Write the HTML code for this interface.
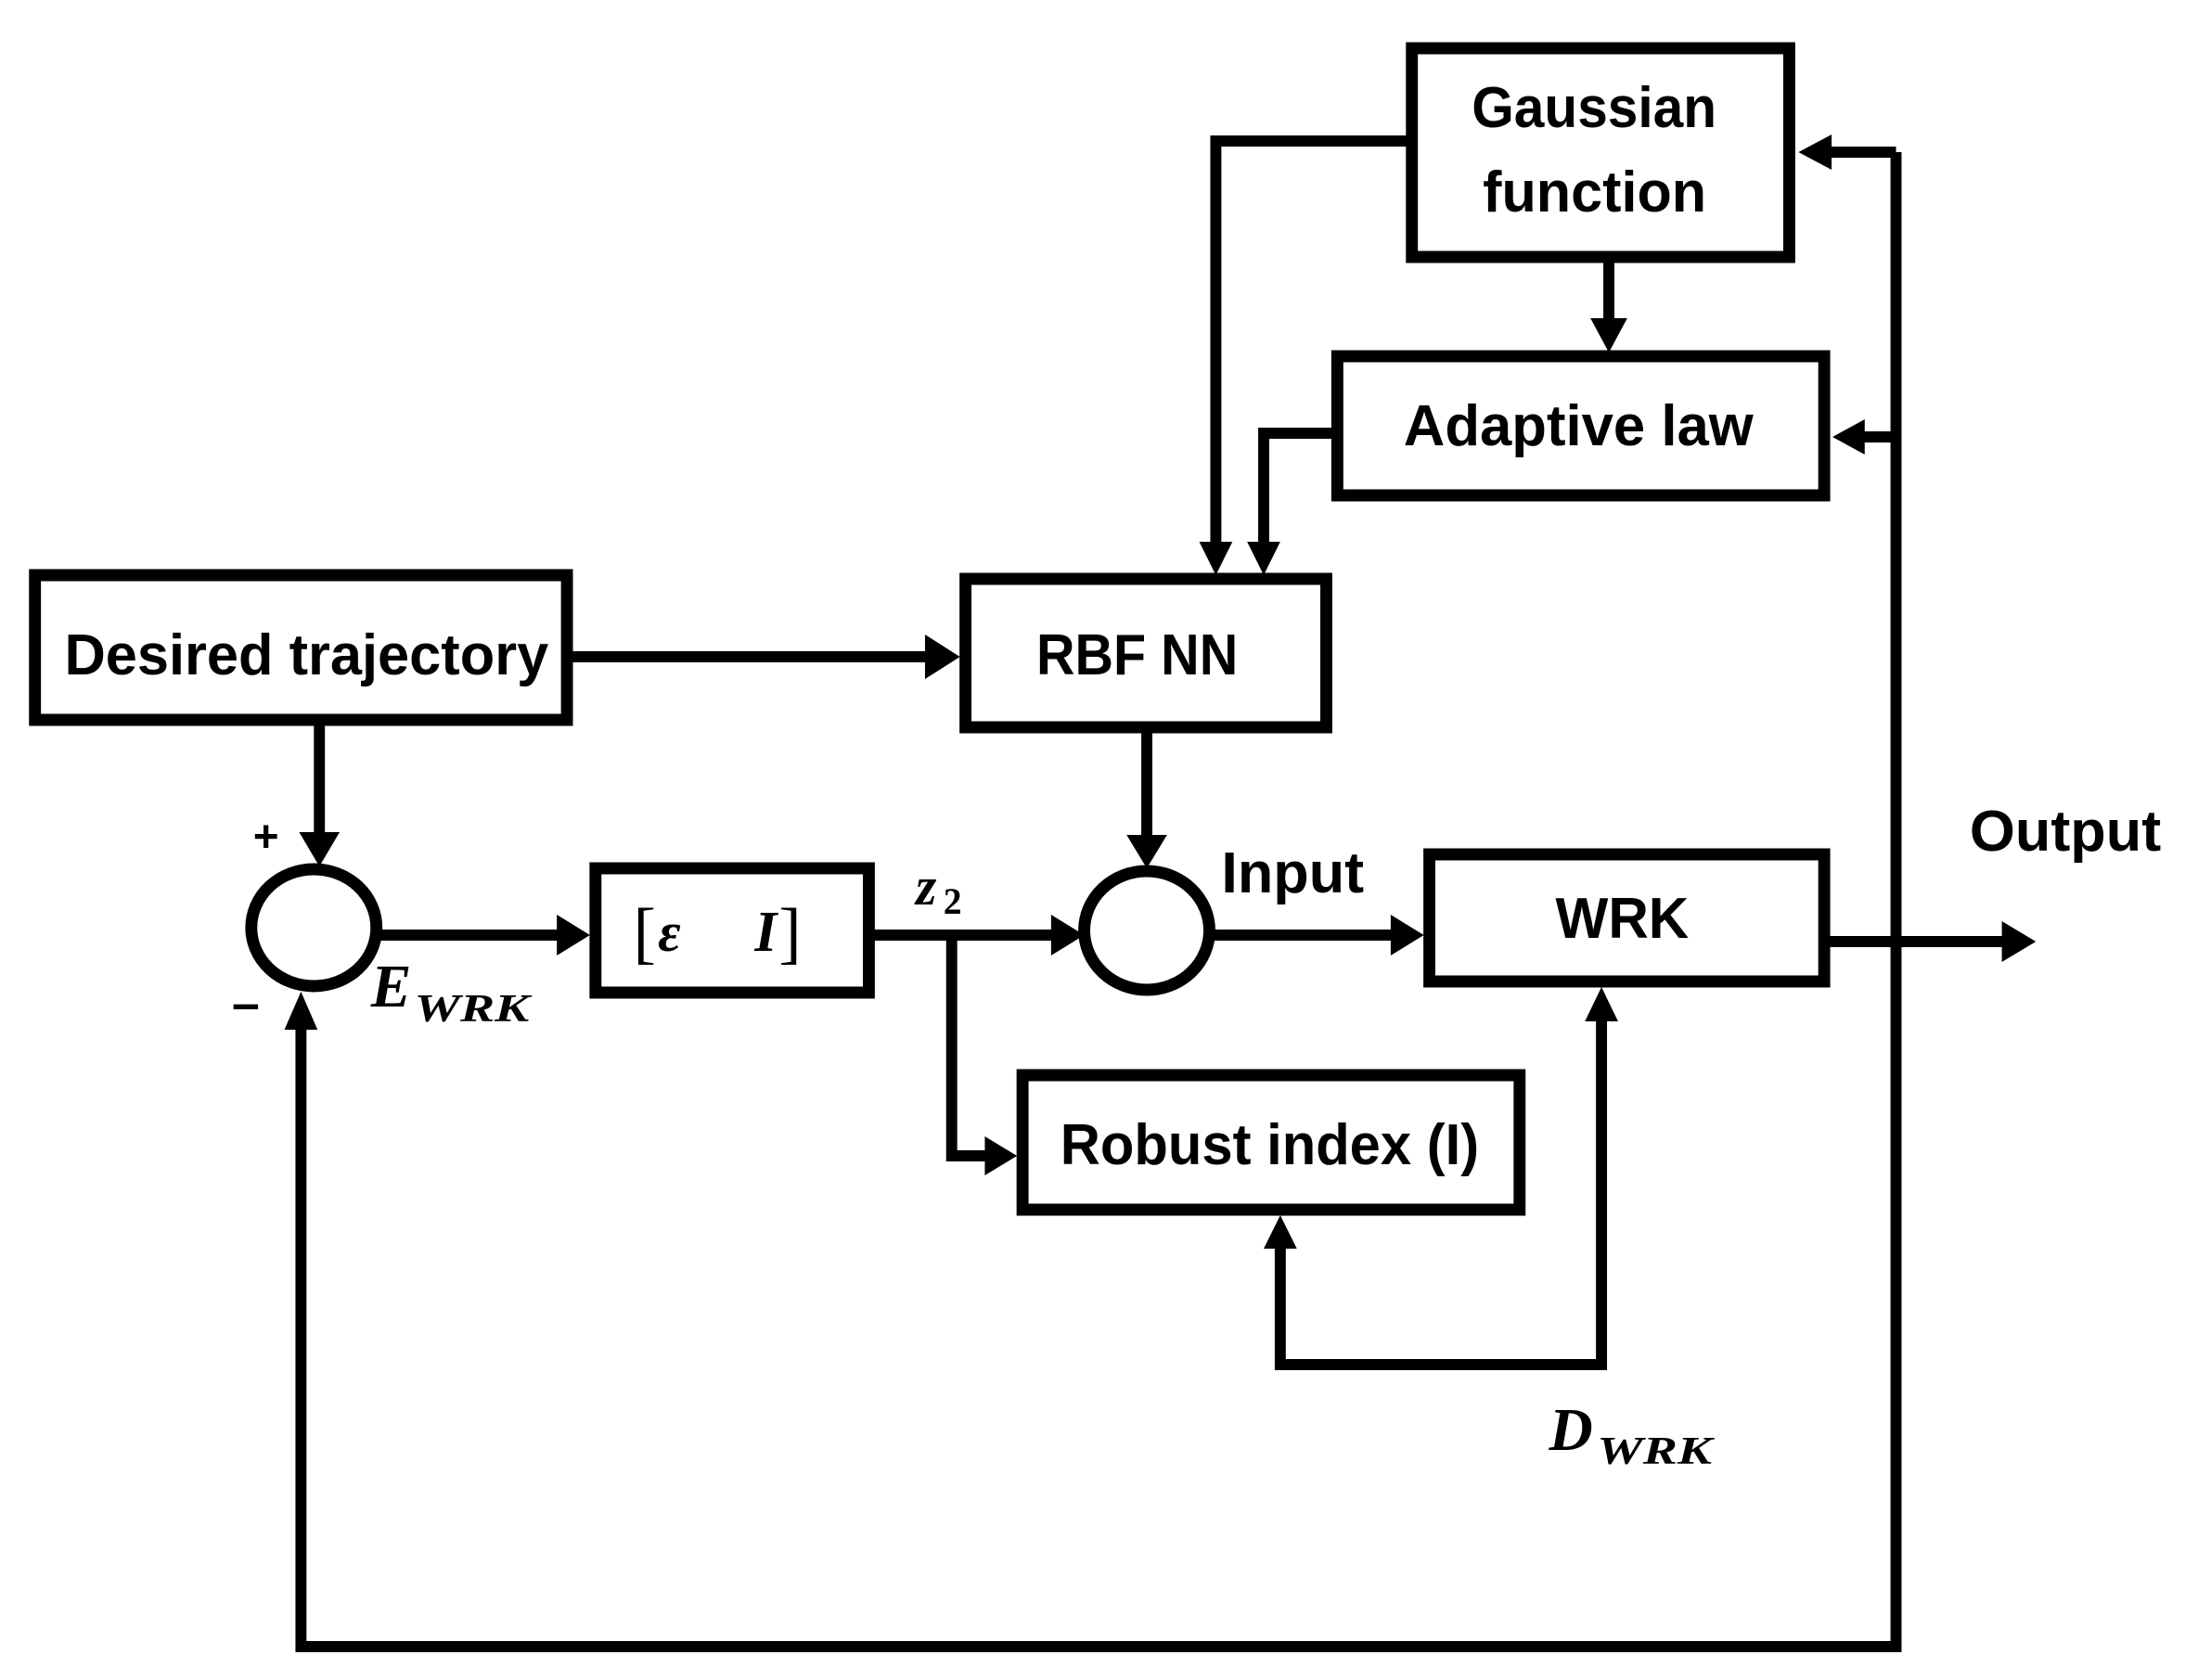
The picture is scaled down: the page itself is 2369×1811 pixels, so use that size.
<!DOCTYPE html>
<html><head><meta charset="utf-8"><style>
html,body{margin:0;padding:0;background:#fff;}
svg{display:block}
.t{font-family:"Liberation Sans",sans-serif;font-weight:bold;font-size:62px;fill:#000}
.m{font-family:"Liberation Serif",serif;font-style:italic;font-weight:bold;fill:#000}
</style></head><body>
<svg width="2369" height="1811" viewBox="0 0 2369 1811" xmlns="http://www.w3.org/2000/svg">
<g transform="scale(0.992,1)">
<g fill="none" stroke="#000" stroke-width="13">
<rect x="1534" y="52" width="410" height="225"/>
<rect x="1453" y="384" width="529" height="150"/>
<rect x="1049" y="624" width="392" height="160"/>
<rect x="38" y="620" width="578" height="156"/>
<rect x="647" y="936" width="297" height="134"/>
<rect x="1553" y="921" width="429" height="137"/>
<rect x="1111" y="1159" width="540" height="145"/>
<ellipse cx="341" cy="1000" rx="68" ry="63"/>
<ellipse cx="1246" cy="1003" rx="68" ry="64"/>
</g>
<g fill="none" stroke="#000" stroke-width="12" stroke-linejoin="miter">
<polyline points="622,708 1010,708"/>
<polyline points="347,782 347,905"/>
<polyline points="409,1008 610,1008"/>
<polyline points="950,1008 1148,1008"/>
<polyline points="1034,1008 1034,1246 1075,1246"/>
<polyline points="1246,790 1246,908"/>
<polyline points="1314,1008 1518,1008"/>
<polyline points="1988,1015 2180,1015"/>
<polyline points="2060,164 2060,1775 327,1775 327,1108"/>
<polyline points="2060,164 1985,164"/>
<polyline points="2060,471 2020,471"/>
<polyline points="1528,152 1321,152 1321,588"/>
<polyline points="1447,467 1373,467 1373,588"/>
<polyline points="1748,283 1748,348"/>
<polyline points="1391,1340 1391,1471 1740,1471 1740,1098"/>
</g>
<g fill="#000">
<polygon points="1043,708 1005,684 1005,732"/>
<polygon points="347,934 325,897 369,897"/>
<polygon points="641,1008 605,986 605,1030"/>
<polygon points="1178,1008 1142,986 1142,1030"/>
<polygon points="1105,1246 1070,1225 1070,1267"/>
<polygon points="1246,936 1224,900 1268,900"/>
<polygon points="1547,1008 1511,986 1511,1030"/>
<polygon points="2212,1015 2175,993 2175,1037"/>
<polygon points="327,1069 309,1110 345,1110"/>
<polygon points="1954,164 1990,145 1990,183"/>
<polygon points="1991,471 2026,452 2026,490"/>
<polygon points="1321,620 1303,584 1339,584"/>
<polygon points="1373,620 1355,584 1391,584"/>
<polygon points="1748,380 1728,343 1768,343"/>
<polygon points="1391,1310 1373,1346 1409,1346"/>
<polygon points="1740,1064 1722,1101 1758,1101"/>
</g>
<g class="t">
<text x="1599" y="137" textLength="266" lengthAdjust="spacingAndGlyphs">Gaussian</text>
<text x="1611" y="228" textLength="243" lengthAdjust="spacingAndGlyphs">function</text>
<text x="1525" y="480" textLength="380" lengthAdjust="spacingAndGlyphs">Adaptive law</text>
<text x="1126" y="727" textLength="219" lengthAdjust="spacingAndGlyphs">RBF NN</text>
<text x="70" y="727" textLength="526" lengthAdjust="spacingAndGlyphs">Desired trajectory</text>
<text x="1690" y="1011" textLength="145" lengthAdjust="spacingAndGlyphs">WRK</text>
<text x="1152" y="1255" textLength="455" lengthAdjust="spacingAndGlyphs">Robust index (I)</text>
<text x="2140" y="917" textLength="208" lengthAdjust="spacingAndGlyphs">Output</text>
<text x="1327" y="962" textLength="155" lengthAdjust="spacingAndGlyphs">Input</text>
<text x="275" y="918" font-size="48">+</text>
<text x="252" y="1100" font-size="54">–</text>
</g>
<text class="m" x="403" y="1085" font-size="66">E</text>
<text class="m" x="450" y="1101" font-size="42" textLength="125" lengthAdjust="spacingAndGlyphs">WRK</text>
<text class="m" x="1683" y="1563" font-size="66">D</text>
<text class="m" x="1735" y="1578" font-size="42" textLength="125" lengthAdjust="spacingAndGlyphs">WRK</text>
<text class="m" x="995" y="975" font-size="58">z</text>
<text x="1025" y="985" font-family="Liberation Serif,serif" font-weight="bold" font-size="40">2</text>
<text x="688" y="1030" font-family="Liberation Serif,serif" font-size="74">[</text>
<text class="m" x="715" y="1025" font-size="60">ε</text>
<text class="m" x="820" y="1025" font-size="62">I</text>
<text x="846" y="1030" font-family="Liberation Serif,serif" font-size="74">]</text>
</g>
</svg>
</body></html>
